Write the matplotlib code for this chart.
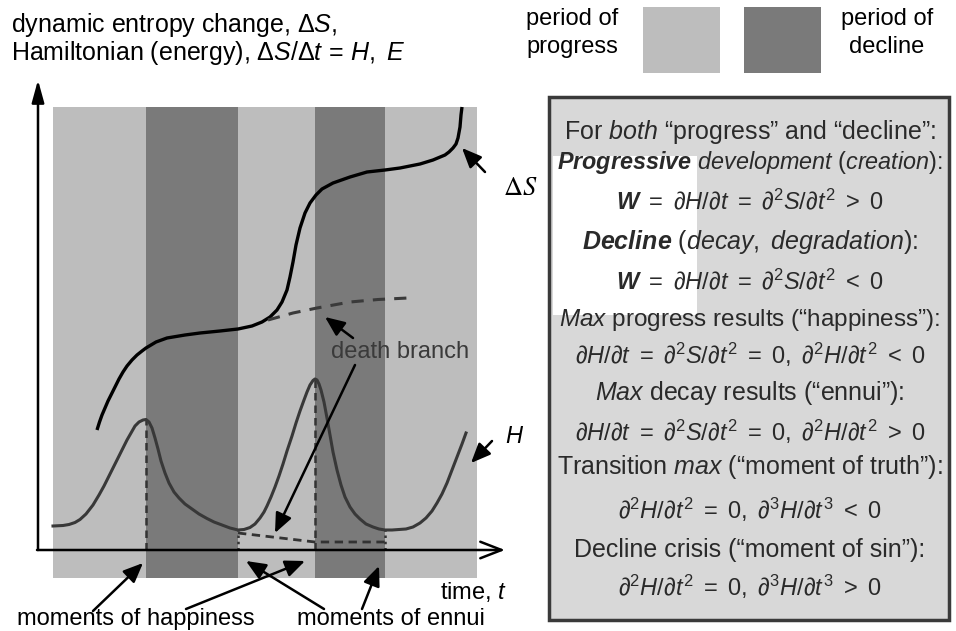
"""
Progress / decline diagram: entropy change and Hamiltonian over time
"""
import matplotlib
matplotlib.use('Agg')
import matplotlib.pyplot as plt
from matplotlib.patches import Rectangle

plt.rcParams.update({
    'font.family': ['Liberation Sans', 'DejaVu Sans'],
    'font.size': 17,
    'mathtext.fontset': 'custom',
    'mathtext.rm': 'Liberation Sans',
    'mathtext.it': 'Liberation Sans:italic',
    'mathtext.bf': 'Liberation Sans:italic:bold',
})

W_PX, H_PX = 956, 631

# ── data (time t, value) ─────────────────────────────
band_edges = [1.5, 10.8, 20.0, 27.7, 34.7, 43.9]
band_kinds = ['progress', 'decline', 'progress', 'decline', 'progress']
band_bottom, band_top = -2.8, 44.3

ds_t = [5.9, 6.15, 6.4, 6.7, 7.0, 7.35, 7.7, 8.1, 8.5, 8.9, 9.4, 9.9, 10.4,
        10.8, 11.3, 11.8, 12.9, 14.7, 16.2, 18.2, 20.0, 21.4, 22.4, 23.2, 23.9,
        24.4, 24.9, 25.2, 25.5, 25.8, 26.2, 26.7, 27.2, 27.8, 28.4, 29.5, 31.2,
        32.9, 34.7, 36.2, 38.2, 39.5, 40.7, 41.1, 41.5, 41.8, 42.0, 42.2, 42.3,
        42.4]
ds_v = [12.0, 12.8, 13.5, 14.2, 14.9, 15.6, 16.3, 17.1, 17.8, 18.4, 19.0, 19.5,
        19.9, 20.2, 20.5, 20.8, 21.2, 21.5, 21.7, 21.9, 22.1, 22.4, 22.8, 23.3,
        24.0, 24.8, 26.0, 27.3, 28.8, 30.5, 32.2, 33.7, 34.7, 35.5, 36.1, 36.7,
        37.3, 37.8, 38.0, 38.2, 38.6, 39.0, 39.5, 39.8, 40.2, 40.6, 41.2, 42.3,
        43.5, 44.3]

death_t = [23.0, 25.5, 27.9, 31.2, 34.0, 37.0]
death_v = [23.0, 23.7, 24.2, 24.8, 25.05, 25.2]

h_t = [1.5, 2.5, 3.1, 3.7, 4.2, 4.8, 5.5, 6.1, 6.6, 7.1, 7.6, 8.1, 8.5, 8.9,
       9.3, 9.7, 10.1, 10.5, 10.8, 11.1, 11.4, 11.7, 12.0, 12.3, 12.7, 13.1,
       13.6, 14.1, 14.7, 15.4, 16.1, 16.9, 17.6, 18.4, 19.2, 20.0, 20.6, 21.2,
       21.7, 22.2, 22.6, 22.9, 23.3, 23.7, 24.1, 24.5, 24.9, 25.4, 25.8, 26.2,
       26.6, 26.9, 27.2, 27.5, 27.7, 27.9, 28.1, 28.3, 28.6, 28.9, 29.2, 29.5,
       29.9, 30.3, 30.7, 31.2, 31.7, 32.2, 32.8, 33.5, 34.1, 34.7, 35.4, 36.1,
       36.8, 37.5, 38.2, 38.8, 39.4, 39.9, 40.4, 40.9, 41.4, 41.9, 42.4, 42.8]
h_v = [2.4, 2.45, 2.55, 2.75, 3.05, 3.6, 4.5, 5.5, 6.4, 7.4, 8.4, 9.4, 10.2,
       11.0, 11.7, 12.4, 12.8, 13.0, 13.05, 12.8, 12.2, 11.2, 10.1, 8.9, 7.7,
       6.7, 5.8, 5.2, 4.6, 4.1, 3.6, 3.15, 2.8, 2.5, 2.2, 2.0, 2.05, 2.25, 2.6,
       3.2, 3.8, 4.4, 5.3, 6.3, 7.4, 8.6, 9.9, 11.4, 12.7, 13.9, 15.0, 15.8,
       16.5, 16.95, 17.1, 17.0, 16.6, 16.0, 14.8, 13.2, 11.5, 9.8, 8.0, 6.5,
       5.3, 4.3, 3.6, 3.1, 2.6, 2.3, 2.1, 2.0, 2.0, 2.05, 2.1, 2.3, 2.7, 3.2,
       3.9, 4.7, 5.6, 6.7, 8.0, 9.3, 10.6, 11.7]

happy_t = [10.8, 27.7]
happy_v = [13.0, 17.1]
ennui_t = [20.0, 34.7]
ennui_v = [2.0, 2.0]
h_death_t = [20.0, 27.7, 34.7]
h_death_v = [1.7, 0.8, 0.8]

conditions = [
    'For $\\mathit{both}$ \u201cprogress\u201d and \u201cdecline\u201d:',
    r'$\mathbf{Progressive}\ \mathit{development\ (creation)}$:',
    r'$\mathbf{W}\ =\ \partial H/\partial t\ =\ \partial^2 S/\partial t^2\ >\ 0$',
    r'$\mathbf{Decline}\ \mathit{(decay,\ degradation)}$:',
    r'$\mathbf{W}\ =\ \partial H/\partial t\ =\ \partial^2 S/\partial t^2\ <\ 0$',
    '$\\mathit{Max}$ progress results (\u201chappiness\u201d):',
    r'$\partial H/\partial t\ =\ \partial^2 S/\partial t^2\ =\ 0,\ \partial^2 H/\partial t^2\ <\ 0$',
    '$\\mathit{Max}$ decay results (\u201cennui\u201d):',
    r'$\partial H/\partial t\ =\ \partial^2 S/\partial t^2\ =\ 0,\ \partial^2 H/\partial t^2\ >\ 0$',
    'Transition $\\mathit{max}$ (\u201cmoment of truth\u201d):',
    r'$\partial^2 H/\partial t^2\ =\ 0,\ \partial^3 H/\partial t^3\ <\ 0$',
    'Decline crisis (\u201cmoment of sin\u201d):',
    r'$\partial^2 H/\partial t^2\ =\ 0,\ \partial^3 H/\partial t^3\ >\ 0$',
]
cond_y = [132, 163, 202, 242, 282, 320, 355, 393, 432, 467, 510, 550, 587]
cond_size = [18, 16.8, 17, 18, 17, 17.5, 17, 18, 17, 18, 17, 18, 17]

LIGHT, DARK = '#bdbdbd', '#7a7a7a'
colors = {'progress': LIGHT, 'decline': DARK}


def fx(x):
    return x / W_PX


def fy(y):
    return 1 - y / H_PX


fig = plt.figure(figsize=(W_PX / 100, H_PX / 100), dpi=100)
ax = fig.add_axes([0, 0, 1, 1])
ax.set_xlim(-3.8, (W_PX - 38) / 10)
ax.set_ylim((550 - H_PX) / 10, 55)
ax.axis('off')

# bands
for i, kind in enumerate(band_kinds):
    ax.add_patch(Rectangle((band_edges[i], band_bottom),
                           band_edges[i + 1] - band_edges[i],
                           band_top - band_bottom,
                           color=colors[kind], lw=0, zorder=1))

# curves
ax.plot(ds_t, ds_v, color='black', lw=2.4, solid_capstyle='butt',
        solid_joinstyle='round', zorder=4)
ax.plot(death_t, death_v, color='#3a3a3a', lw=2.2, ls=(0, (4, 3)), zorder=4)
ax.plot(h_t, h_v, color='#383838', lw=2.2, solid_joinstyle='round', zorder=4)

for t, v in zip(happy_t, happy_v):
    ax.plot([t, t], [0, v], color='#333333', lw=1.8, ls=(0, (3, 2)), zorder=3)
for t, v in zip(ennui_t, ennui_v):
    ax.plot([t, t], [0, v], color='#333333', lw=1.8, ls=(0, (1, 1.5)), zorder=3)
ax.plot(h_death_t, h_death_v, color='#333333', lw=2.0, ls=(0, (3, 2)), zorder=3)

# axes arrows
ax.annotate('', xy=(0, 47.0), xytext=(0, 0),
            arrowprops=dict(arrowstyle='-|>,head_length=0.8,head_width=0.22',
                            color='black', lw=1.8, shrinkA=0, shrinkB=0), zorder=5)
ax.annotate('', xy=(46.7, 0), xytext=(-0.1, 0),
            arrowprops=dict(arrowstyle='->,head_length=0.9,head_width=0.35',
                            color='black', lw=1.8, shrinkA=0, shrinkB=0), zorder=5)

arrow = dict(arrowstyle='-|>,head_length=0.7,head_width=0.3', color='black',
             lw=1.8, shrinkA=0, shrinkB=0)


def pointer(head, tail):
    ax.annotate('', xy=head, xytext=tail, arrowprops=arrow, zorder=6)


pointer((42.4, 40.2), (44.7, 37.8))
pointer((28.7, 23.3), (31.5, 21.2))
pointer((23.7, 1.7), (31.7, 18.5))
pointer((43.3, 8.7), (45.4, 10.9))
pointer((10.5, -1.3), (5.5, -6.1))
pointer((26.7, -1.1), (14.8, -5.9))
pointer((20.8, -1.1), (28.6, -5.9))
pointer((34.1, -1.6), (32.4, -5.9))

ax.text(46.5, 36.2, r'$\Delta S$', math_fontfamily='stix', fontsize=19,
        ha='left', va='center')
ax.text(46.7, 11.3, '$H$', fontsize=17, ha='left', va='center')
ax.text(36.2, 19.8, 'death branch', color='#3a3a3a', ha='center',
        va='center', zorder=5)
ax.text(9.8, -6.9, 'moments of happiness', ha='center', va='center')
ax.text(35.3, -6.9, 'moments of ennui', ha='center', va='center')
ax.text(43.6, -4.2, 'time, $t$', ha='center', va='center')

# y-axis caption
fig.text(fx(11), fy(32), r'dynamic entropy change, $\Delta S$,', va='baseline',
         fontsize=18)
fig.text(fx(11), fy(60), r'Hamiltonian (energy), $\Delta S/\Delta t\,=\,H,\ E$',
         va='baseline', fontsize=18)

# legend
fig.text(fx(572), fy(33), 'period of\nprogress', ha='center', va='center',
         linespacing=1.3)
fig.text(fx(887), fy(33), 'period of\ndecline', ha='center', va='center',
         linespacing=1.3)
fig.add_artist(Rectangle((fx(643), fy(73)), fx(77), 66 / H_PX,
                         transform=fig.transFigure, color=LIGHT, lw=0))
fig.add_artist(Rectangle((fx(744), fy(73)), fx(77), 66 / H_PX,
                         transform=fig.transFigure, color=DARK, lw=0))

# condition box
fig.add_artist(Rectangle((fx(549), fy(620)), fx(400), 523 / H_PX,
                         transform=fig.transFigure, facecolor='#d8d8d8',
                         edgecolor='#3a3a3a', lw=2.5))
fig.add_artist(Rectangle((fx(553), fy(315)), fx(144), 159 / H_PX,
                         transform=fig.transFigure, facecolor='white', lw=0))
for s, y, fs in zip(conditions, cond_y, cond_size):
    fig.text(fx(750), fy(y), s, ha='center', va='center', color='#2a2a2a',
             fontsize=fs)

fig.savefig('out.png', dpi=100)
print('Saved: out.png')
plt.close()
